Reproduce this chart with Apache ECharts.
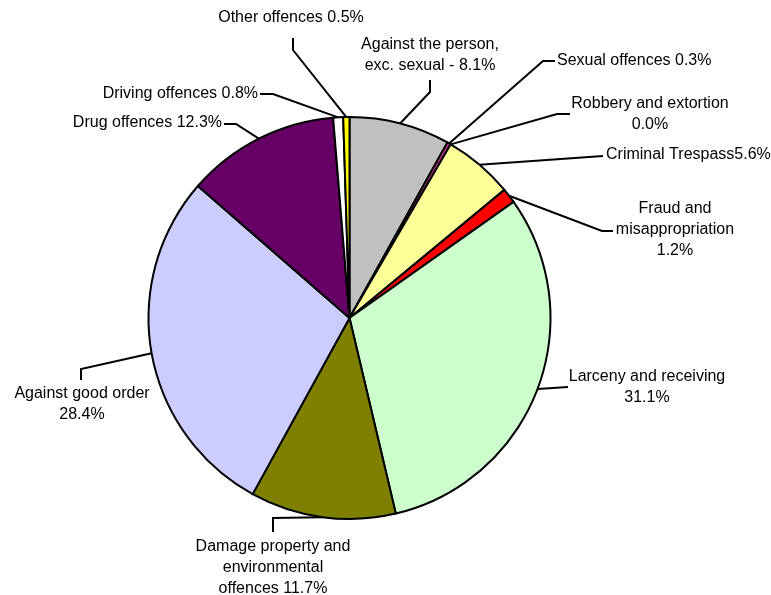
<!DOCTYPE html>
<html>
<head>
<meta charset="utf-8">
<style>
  html, body { margin: 0; padding: 0; background: #ffffff; }
  #chart { width: 771px; height: 595px; }
</style>
<script src="https://cdn.jsdelivr.net/npm/echarts@6/dist/echarts.min.js"></script>
</head>
<body>
<div id="chart"></div>
<script>
// Offence categories, clockwise from 12 o'clock
const categories = [
  'Against the person,\nexc. sexual',
  'Sexual offences',
  'Robbery and extortion',
  'Criminal Trespass',
  'Fraud and\nmisappropriation',
  'Larceny and receiving',
  'Damage property and\nenvironmental\noffences',
  'Against good order',
  'Drug offences',
  'Driving offences',
  'Other offences'
];
// Share of offences (%)
const shares = [8.1, 0.3, 0.0, 5.6, 1.2, 31.1, 11.7, 28.4, 12.3, 0.8, 0.5];
// Text placed between each name and its percentage
const separators = [' - ', ' ', '\n', '', '\n', '\n', ' ', '\n', ' ', ' ', ' '];
const sliceColors = ['#C0C0C0', '#CC3399', '#993366', '#FFFF99', '#FF0000', '#CCFFCC',
                     '#808000', '#CCCCFF', '#660066', '#FFFFFF', '#FFFF00'];

// Label placement: anchor point, alignment and leader-line bend points
const labelPlacement = [
  { x: 430, y: 34,  align: 'center', va: 'top',    line: [[430, 92], [430, 80]] },
  { x: 557, y: 61,  align: 'left',   va: 'middle', line: [[543, 61], [555, 61]] },
  { x: 650, y: 93,  align: 'center', va: 'top',    line: [[557, 114], [570, 114]] },
  { x: 606, y: 155, align: 'left',   va: 'middle', line: [[603, 156]] },
  { x: 675, y: 198, align: 'center', va: 'top',    line: [[602, 231], [613, 231]] },
  { x: 647, y: 366, align: 'center', va: 'top',    line: [[568, 387]] },
  { x: 273, y: 536, align: 'center', va: 'top',    line: [[273, 518], [273, 532]] },
  { x: 82,  y: 383, align: 'center', va: 'top',    line: [[81, 369], [81, 380]] },
  { x: 222, y: 123, align: 'right',  va: 'middle', line: [[236, 124], [224, 124]] },
  { x: 258, y: 94,  align: 'right',  va: 'middle', line: [[273, 94], [260, 94]] },
  { x: 291, y: 18,  align: 'center', va: 'middle', line: [[293, 50], [293, 38]] }
];

const CENTER = [349.5, 318];
const RADIUS = 201;

// Point on the rim at the middle of slice i
function rimPoint(i) {
  const total = shares.reduce((a, b) => a + b, 0);
  let before = 0;
  for (let k = 0; k < i; k++) before += shares[k];
  const frac = (before + shares[i] / 2) / total;
  const ang = frac * 2 * Math.PI;
  return [CENTER[0] + RADIUS * Math.sin(ang), CENTER[1] - RADIUS * Math.cos(ang)];
}

const chart = echarts.init(document.getElementById('chart'), null, { renderer: 'canvas' });

chart.setOption({
  backgroundColor: '#ffffff',
  animation: false,
  series: [{
    type: 'pie',
    center: CENTER,
    radius: RADIUS,
    startAngle: 90,
    clockwise: true,
    avoidLabelOverlap: false,
    stillShowZeroSum: true,
    emphasis: { disabled: true },
    itemStyle: { borderColor: '#000000', borderWidth: 2 },
    label: {
      show: true,
      position: 'outside',
      fontFamily: '"Liberation Sans", Arial, sans-serif',
      fontSize: 16,
      lineHeight: 21,
      color: '#000000',
      formatter: p => categories[p.dataIndex] + separators[p.dataIndex] + shares[p.dataIndex].toFixed(1) + '%'
    },
    labelLine: {
      show: true,
      length: 10,
      length2: 10,
      lineStyle: { color: '#000000', width: 2 }
    },
    labelLayout: function (params) {
      const i = params.dataIndex;
      const lp = labelPlacement[i];
      return {
        x: lp.x,
        y: lp.y,
        align: lp.align,
        verticalAlign: lp.va,
        labelLinePoints: [rimPoint(i)].concat(lp.line)
      };
    },
    data: categories.map((name, i) => ({
      name: name,
      value: shares[i],
      itemStyle: { color: sliceColors[i] }
    }))
  }]
});
</script>
</body>
</html>
